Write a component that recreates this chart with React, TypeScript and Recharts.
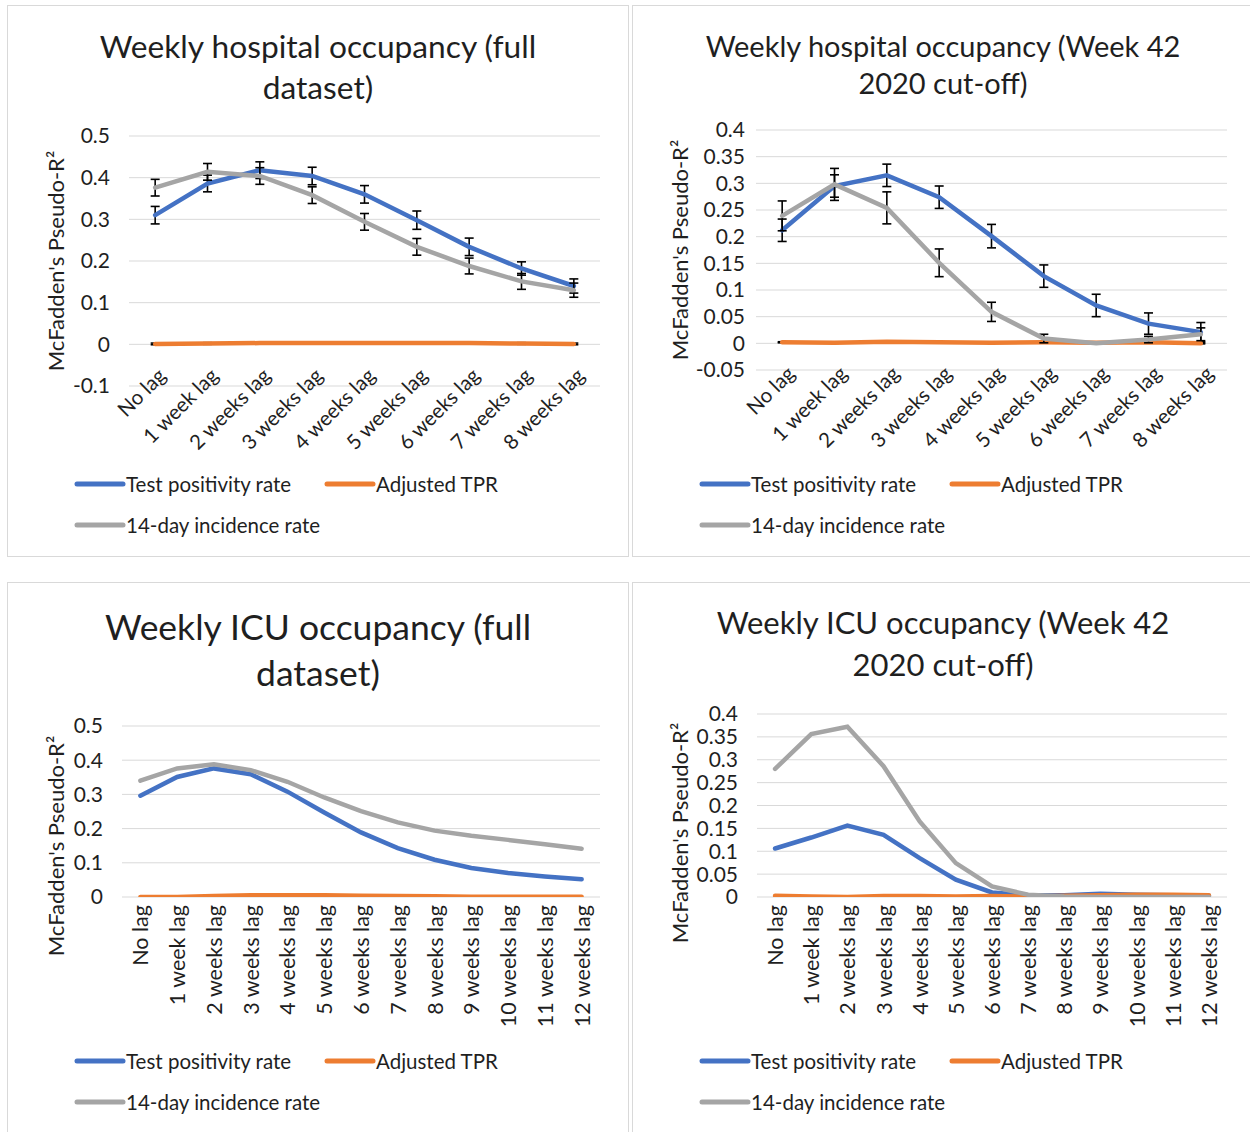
import React from 'react';
import { LineChart, Line, XAxis, YAxis, CartesianGrid, ErrorBar, Legend } from 'recharts';

const BLUE = '#4472C4';
const ORANGE = '#ED7D31';
const GREY = '#A5A5A5';
const TEXT = '#1f1f1f';
const FONT = 'Lato, "Open Sans", sans-serif';

const SERIES_NAMES = ['Test positivity rate', 'Adjusted TPR', '14-day incidence rate'];
const Y_LABEL = "McFadden's Pseudo-R\u00B2";

const lags8 = ['No lag', '1 week lag', '2 weeks lag', '3 weeks lag', '4 weeks lag', '5 weeks lag', '6 weeks lag', '7 weeks lag', '8 weeks lag'];
const lags12 = ['No lag', '1 week lag', '2 weeks lag', '3 weeks lag', '4 weeks lag', '5 weeks lag', '6 weeks lag', '7 weeks lag', '8 weeks lag', '9 weeks lag', '10 weeks lag', '11 weeks lag', '12 weeks lag'];

// Weekly hospital occupancy (full dataset)
const hospFullTpr = [0.31, 0.386, 0.418, 0.404, 0.36, 0.298, 0.234, 0.182, 0.14];
const hospFullTprErr = [0.021, 0.02, 0.02, 0.021, 0.021, 0.022, 0.021, 0.016, 0.017];
const hospFullAdj = [0.001, 0.002, 0.003, 0.003, 0.003, 0.003, 0.003, 0.002, 0.001];
const hospFullAdjErr = [0.002, 0.002, 0.002, 0.002, 0.002, 0.002, 0.002, 0.002, 0.002];
const hospFullInc = [0.376, 0.414, 0.404, 0.358, 0.294, 0.234, 0.188, 0.151, 0.13];
const hospFullIncErr = [0.02, 0.02, 0.02, 0.02, 0.02, 0.02, 0.019, 0.019, 0.017];

// Weekly hospital occupancy (Week 42 2020 cut-off)
const hospCutTpr = [0.212, 0.295, 0.315, 0.274, 0.201, 0.126, 0.071, 0.037, 0.021];
const hospCutTprErr = [0.021, 0.021, 0.021, 0.021, 0.022, 0.021, 0.021, 0.02, 0.018];
const hospCutAdj = [0.002, 0.001, 0.003, 0.002, 0.001, 0.002, 0.001, 0.002, 0.0];
const hospCutAdjErr = [0.001, 0.001, 0.001, 0.001, 0.001, 0.001, 0.001, 0.001, 0.001];
const hospCutInc = [0.239, 0.298, 0.254, 0.151, 0.059, 0.009, 0.0, 0.007, 0.017];
const hospCutIncErr = [0.028, 0.03, 0.03, 0.026, 0.018, 0.008, 0.001, 0.006, 0.012];

// Weekly ICU occupancy (full dataset)
const icuFullTpr = [0.296, 0.351, 0.376, 0.359, 0.308, 0.247, 0.189, 0.143, 0.109, 0.085, 0.07, 0.06, 0.052];
const icuFullAdj = [0.0, 0.0, 0.003, 0.005, 0.005, 0.005, 0.004, 0.003, 0.002, 0.001, 0.001, 0.001, 0.001];
const icuFullInc = [0.34, 0.376, 0.388, 0.371, 0.337, 0.291, 0.251, 0.218, 0.194, 0.179, 0.167, 0.154, 0.141];

// Weekly ICU occupancy (Week 42 2020 cut-off)
const icuCutTpr = [0.106, 0.13, 0.156, 0.136, 0.085, 0.038, 0.01, 0.004, 0.004, 0.007, 0.005, 0.004, 0.003];
const icuCutAdj = [0.003, 0.001, 0.0, 0.002, 0.002, 0.001, 0.002, 0.001, 0.003, 0.004, 0.005, 0.005, 0.004];
const icuCutInc = [0.28, 0.356, 0.372, 0.286, 0.165, 0.074, 0.023, 0.005, 0.001, 0.0, 0.0, 0.0, 0.0];

const ticksA = [-0.1, 0, 0.1, 0.2, 0.3, 0.4, 0.5];
const ticksB = [-0.05, 0, 0.05, 0.1, 0.15, 0.2, 0.25, 0.3, 0.35, 0.4];
const ticksC = [0, 0.1, 0.2, 0.3, 0.4, 0.5];
const ticksD = [0, 0.05, 0.1, 0.15, 0.2, 0.25, 0.3, 0.35, 0.4];

function build(lags, tpr, adj, inc, tprErr?, adjErr?, incErr?) {
  return lags.map((lag, i) => ({
    lag,
    tpr: tpr[i],
    adj: adj[i],
    inc: inc[i],
    tprErr: tprErr ? tprErr[i] : 0,
    adjErr: adjErr ? adjErr[i] : 0,
    incErr: incErr ? incErr[i] : 0,
  }));
}

const dataHospFull = build(lags8, hospFullTpr, hospFullAdj, hospFullInc, hospFullTprErr, hospFullAdjErr, hospFullIncErr);
const dataHospCut = build(lags8, hospCutTpr, hospCutAdj, hospCutInc, hospCutTprErr, hospCutAdjErr, hospCutIncErr);
const dataIcuFull = build(lags12, icuFullTpr, icuFullAdj, icuFullInc);
const dataIcuCut = build(lags12, icuCutTpr, icuCutAdj, icuCutInc);

const fmt = (v: number) => String(Math.round(v * 100) / 100);

const makeTick = (rot: number, dx: number, dy: number, fs: number) => (props: any) => {
  const { x, y, payload } = props;
  const ax = x + dx;
  const ay = y + dy;
  return (
    <text x={ax} y={ay} transform={`rotate(${rot}, ${ax}, ${ay})`} textAnchor="end" fontSize={fs} fill={TEXT} fontFamily={FONT}>
      {payload.value}
    </text>
  );
};

const renderLegend = (props: any) => {
  const payload = [...(props.payload || [])].sort(
    (a: any, b: any) => SERIES_NAMES.indexOf(a.value) - SERIES_NAMES.indexOf(b.value)
  );
  return (
    <div style={{ display: 'flex', flexWrap: 'wrap', width: 520, fontFamily: FONT }}>
      {payload.map((p: any) => (
        <div key={p.value} style={{ width: 250, height: 41, display: 'flex', alignItems: 'center' }}>
          <svg width={52} height={10} style={{ flex: 'none' }}>
            <line x1={3} y1={5} x2={49} y2={5} stroke={p.color} strokeWidth={5} strokeLinecap="round" />
          </svg>
          <span style={{ fontSize: 20.5, color: TEXT, whiteSpace: 'nowrap' }}>{p.value}</span>
        </div>
      ))}
    </div>
  );
};

type PanelProps = {
  left: number; top: number; width: number; height: number;
  plot: { x0: number; x1: number; y0: number; y1: number };
  titleLines: string[]; titleSize: number; titleLH: number; titleCenterY: number;
  data: any[]; domain: [number, number]; ticks: number[];
  rot: number; tdx: number; tdy: number; tfs: number;
  yGap: number; ylabel: { x: number; y: number };
  errors: boolean;
};

function Panel(p: PanelProps) {
  const ox = p.left + 1;
  const oy = p.top + 1;
  const cw = p.width - 2;
  const ch = p.height - 2;
  const yAxisW = 60;
  const xAxisH = 40;
  const margin = {
    left: p.plot.x0 - ox - yAxisW,
    right: cw - (p.plot.x1 - ox),
    top: p.plot.y0 - oy,
    bottom: ch - (p.plot.y1 - oy) - xAxisH,
  };
  const halfBand = (p.plot.x1 - p.plot.x0) / p.data.length / 2;
  const eb = (key: string) =>
    p.errors ? <ErrorBar dataKey={key} width={4.5} strokeWidth={1.6} stroke="#000" direction="y" isAnimationActive={false} /> : null;
  return (
    <div style={{ position: 'absolute', left: p.left, top: p.top, width: p.width, height: p.height, border: '1px solid #d9d9d9', boxSizing: 'border-box', background: '#fff' }}>
      <div style={{ position: 'absolute', left: 0, width: cw, top: p.titleCenterY - oy - p.titleLH / 2, textAlign: 'center', fontSize: p.titleSize, lineHeight: `${p.titleLH}px`, color: TEXT, fontFamily: FONT }}>
        {p.titleLines.map((l) => (<div key={l}>{l}</div>))}
      </div>
      <div style={{ position: 'absolute', left: p.ylabel.x - ox, top: p.ylabel.y - oy, transform: 'translate(-50%, -50%) rotate(-90deg)', whiteSpace: 'nowrap', fontSize: 22, color: TEXT, fontFamily: FONT }}>
        {Y_LABEL}
      </div>
      <div style={{ position: 'absolute', left: 0, top: 0 }}>
        <LineChart width={cw} height={ch} data={p.data} margin={margin}>
          <CartesianGrid vertical={false} stroke="#d9d9d9" strokeWidth={1} />
          <XAxis dataKey="lag" interval={0} height={xAxisH} padding={{ left: halfBand, right: halfBand }} tickLine={false} axisLine={false} tickSize={0} tickMargin={0} tick={makeTick(p.rot, p.tdx, p.tdy, p.tfs)} />
          <YAxis width={yAxisW} domain={p.domain} ticks={p.ticks} interval={0} type="number" allowDataOverflow tickLine={false} axisLine={false} tickSize={0} tickMargin={p.yGap} tickFormatter={fmt} tick={{ fontSize: 21, fill: TEXT, fontFamily: FONT }} />
          <Legend layout="horizontal" verticalAlign="middle" align="center" wrapperStyle={{ left: 66, top: 457, width: 520 }} content={renderLegend} />
          <Line type="linear" dataKey="tpr" name={SERIES_NAMES[0]} stroke={BLUE} strokeWidth={4.5} dot={false} strokeLinecap="round" isAnimationActive={false}>{eb('tprErr')}</Line>
          <Line type="linear" dataKey="adj" name={SERIES_NAMES[1]} stroke={ORANGE} strokeWidth={4.5} dot={false} strokeLinecap="round" isAnimationActive={false}>{eb('adjErr')}</Line>
          <Line type="linear" dataKey="inc" name={SERIES_NAMES[2]} stroke={GREY} strokeWidth={4.5} dot={false} strokeLinecap="round" isAnimationActive={false}>{eb('incErr')}</Line>
        </LineChart>
      </div>
    </div>
  );
}

export default function App() {
  return (
    <div style={{ position: 'absolute', left: 0, top: 0, width: 1250, height: 1132, overflow: 'hidden', background: '#fff' }}>
      <Panel left={7} top={5} width={622} height={552}
        plot={{ x0: 129, x1: 600, y0: 136, y1: 386 }}
        titleLines={['Weekly hospital occupancy (full', 'dataset)']} titleSize={31.7} titleLH={41} titleCenterY={46}
        data={dataHospFull} domain={[-0.1, 0.5]} ticks={ticksA}
        rot={-45} tdx={12} tdy={-9} tfs={20.5} yGap={19} ylabel={{ x: 55, y: 261 }} errors={true} />
      <Panel left={632} top={5} width={622} height={552}
        plot={{ x0: 756, x1: 1227, y0: 130, y1: 370 }}
        titleLines={['Weekly hospital occupancy (Week 42', '2020 cut-off)']} titleSize={29} titleLH={37} titleCenterY={45}
        data={dataHospCut} domain={[-0.05, 0.4]} ticks={ticksB}
        rot={-45} tdx={14} tdy={5} tfs={20.5} yGap={11} ylabel={{ x: 679, y: 250 }} errors={true} />
      <Panel left={7} top={582} width={622} height={560}
        plot={{ x0: 122, x1: 600, y0: 726, y1: 897 }}
        titleLines={['Weekly ICU occupancy (full', 'dataset)']} titleSize={35.5} titleLH={46} titleCenterY={627}
        data={dataIcuFull} domain={[0, 0.5]} ticks={ticksC}
        rot={-90} tdx={8} tdy={8} tfs={21.5} yGap={19} ylabel={{ x: 55, y: 846 }} errors={false} />
      <Panel left={632} top={582} width={622} height={560}
        plot={{ x0: 757, x1: 1227, y0: 714, y1: 897 }}
        titleLines={['Weekly ICU occupancy (Week 42', '2020 cut-off)']} titleSize={31} titleLH={42} titleCenterY={622}
        data={dataIcuCut} domain={[0, 0.4]} ticks={ticksD}
        rot={-90} tdx={8} tdy={8} tfs={21.5} yGap={19} ylabel={{ x: 679, y: 833 }} errors={false} />
    </div>
  );
}
